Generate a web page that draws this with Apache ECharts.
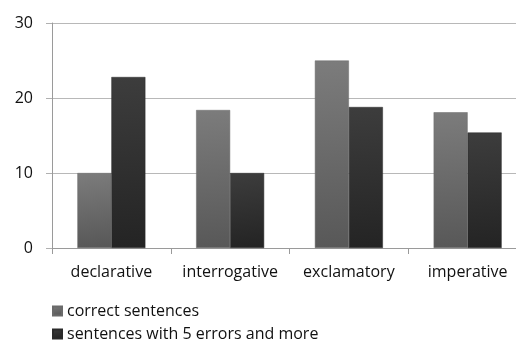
<!DOCTYPE html>
<html>
<head>
<meta charset="utf-8">
<script src="https://cdn.jsdelivr.net/npm/echarts@6/dist/echarts.min.js"></script>
<style>
  html, body { margin: 0; padding: 0; background: #fff; }
  #chart { width: 516px; height: 342px; }
</style>
</head>
<body>
<div id="chart"></div>
<script>
// Sentence types on the category axis
var categories = ['declarative', 'interrogative', 'exclamatory', 'imperative'];
// Series names and their values
var seriesNames = ['correct sentences', 'sentences with 5 errors and more'];
var correctValues = [10, 18.4, 25, 18.1];
var errorValues = [22.8, 10, 18.8, 15.4];
// Value axis range
var yMin = 0, yMax = 30, yStep = 10;

var FONT = '"Open Sans", sans-serif';

function grad(top, bottom) {
  return new echarts.graphic.LinearGradient(0, 0, 0.25, 1, [
    { offset: 0, color: top },
    { offset: 1, color: bottom }
  ]);
}

var chart = echarts.init(document.getElementById('chart'), null, { renderer: 'canvas' });
chart.setOption({
  animation: false,
  backgroundColor: '#ffffff',
  // plot area runs past the right edge of the canvas
  grid: { left: 52, width: 475, top: 23, height: 225, containLabel: false, outerBoundsMode: 'none' },
  legend: {
    orient: 'vertical',
    left: 52,
    top: 303,
    padding: 0,
    itemWidth: 9,
    itemHeight: 9,
    itemGap: 7,
    icon: 'rect',
    textStyle: { fontFamily: FONT, fontSize: 16, color: '#111', lineHeight: 16 },
    data: seriesNames
  },
  xAxis: {
    type: 'category',
    data: categories,
    axisLine: { lineStyle: { color: '#9a9a9a', width: 1 } },
    axisTick: { show: true, length: 6, lineStyle: { color: '#9a9a9a' } },
    axisLabel: { interval: 0, fontFamily: FONT, fontSize: 16, color: '#111', margin: 16 }
  },
  yAxis: {
    type: 'value',
    min: yMin, max: yMax, interval: yStep,
    axisLine: { show: true, lineStyle: { color: '#9a9a9a', width: 1 } },
    axisTick: { show: true, length: 6, lineStyle: { color: '#b0b0b0' } },
    splitLine: { lineStyle: { color: '#b8b8b8', width: 1 } },
    axisLabel: { fontFamily: FONT, fontSize: 16, color: '#111', margin: 19, padding: [4, 0, 0, 0] }
  },
  series: [
    {
      name: seriesNames[0],
      type: 'bar',
      data: correctValues,
      barWidth: 34,
      barGap: '0%',
      itemStyle: { color: grad('#7c7c7c', '#585858'), borderColor: '#6a6a6a', borderWidth: 0.5 }
    },
    {
      name: seriesNames[1],
      type: 'bar',
      data: errorValues,
      barWidth: 34,
      barGap: '0%',
      itemStyle: { color: grad('#3d3d3d', '#242424'), borderColor: '#2a2a2a', borderWidth: 0.5 }
    }
  ]
});
</script>
</body>
</html>
